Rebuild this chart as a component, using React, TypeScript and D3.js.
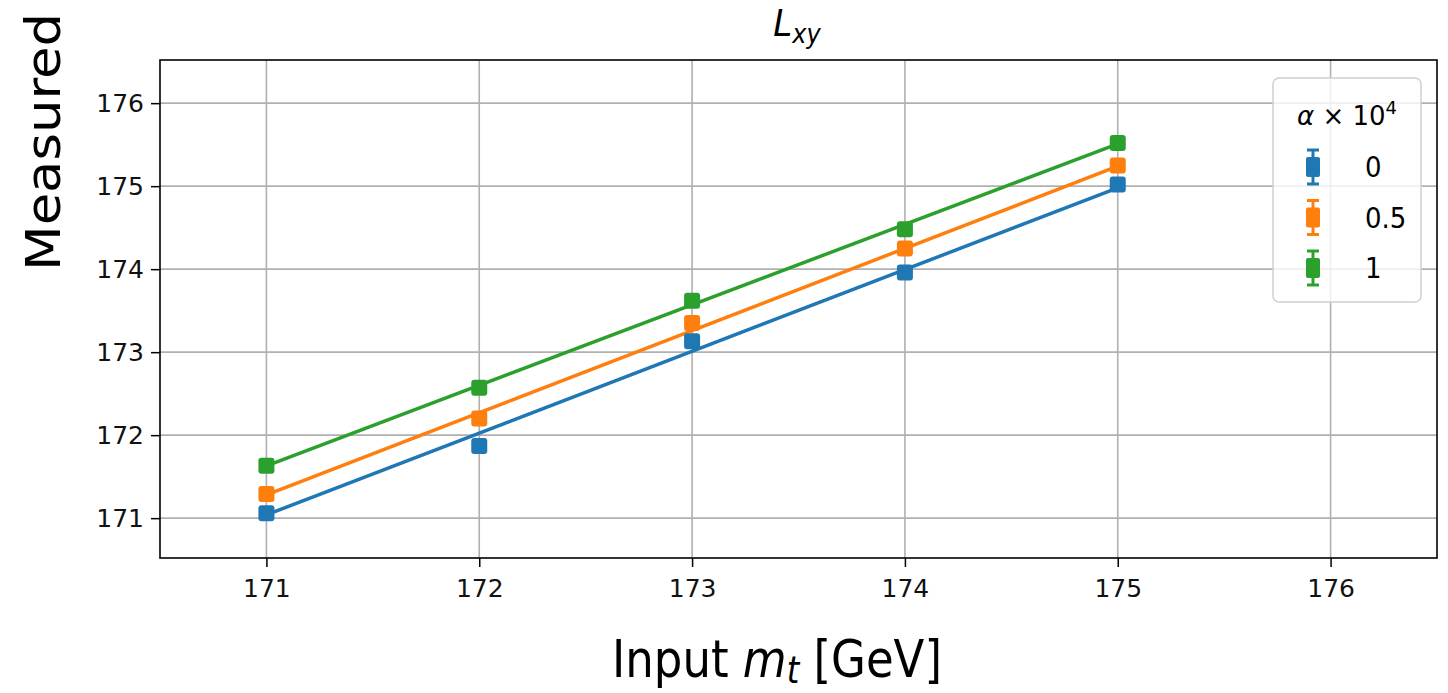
import React, { useRef, useEffect } from 'react';
import * as d3 from 'd3';

// input top mass points
const inputMass = [171, 172, 173, 174, 175];
const alphaLabels = ['0', '0.5', '1'];
const colors = ['#1f77b4', '#ff7f0e', '#2ca02c'];

// measured values per alpha
const measuredA0 = [171.06, 171.87, 173.13, 173.96, 175.02];
const measuredA05 = [171.29, 172.2, 173.35, 174.25, 175.25];
const measuredA1 = [171.63, 172.57, 173.62, 174.48, 175.52];
const errA0 = [0.04, 0.07, 0.05, 0.05, 0.04];
const errA05 = [0.04, 0.05, 0.05, 0.04, 0.05];
const errA1 = [0.05, 0.05, 0.05, 0.04, 0.05];

// linear fit values at 171 and 175
const fitStart = [171.04, 171.28, 171.63];
const fitEnd = [174.98, 175.24, 175.51];

const xTicks = [171, 172, 173, 174, 175, 176];
const yTicks = [171, 172, 173, 174, 175, 176];

const FONT = 'DejaVu Sans, sans-serif';

const Chart: React.FC = () => {
  const ref = useRef<SVGSVGElement>(null);

  useEffect(() => {
    const svg = d3.select(ref.current);
    svg.selectAll('*').remove();
    const width = 1448;
    const height = 693;
    const margin = { top: 60, right: 11, bottom: 135, left: 160 };

    svg.attr('width', width).attr('height', height);

    const x = d3.scaleLinear().domain([170.5, 176.5]).range([margin.left, width - margin.right]);
    const y = d3.scaleLinear().domain([170.52, 176.52]).range([height - margin.bottom, margin.top]);

    const series = [
      { vals: measuredA0, errs: errA0 },
      { vals: measuredA05, errs: errA05 },
      { vals: measuredA1, errs: errA1 },
    ];

    // grid
    const grid = svg.append('g');
    grid.selectAll('line.gx')
      .data(xTicks)
      .join('line')
      .attr('x1', d => x(d)).attr('x2', d => x(d))
      .attr('y1', margin.top).attr('y2', height - margin.bottom)
      .attr('stroke', '#b0b0b0').attr('stroke-width', 1.6);
    grid.selectAll('line.gy')
      .data(yTicks)
      .join('line')
      .attr('x1', margin.left).attr('x2', width - margin.right)
      .attr('y1', d => y(d)).attr('y2', d => y(d))
      .attr('stroke', '#b0b0b0').attr('stroke-width', 1.6);

    // fit lines
    const line = d3.line<[number, number]>().x(d => x(d[0])).y(d => y(d[1]));
    series.forEach((s, i) => {
      svg.append('path')
        .datum([[inputMass[0], fitStart[i]], [inputMass[inputMass.length - 1], fitEnd[i]]] as [number, number][])
        .attr('fill', 'none')
        .attr('stroke', colors[i])
        .attr('stroke-width', 3.5)
        .attr('d', line);
    });

    // points with error bars
    const ms = 16;
    series.forEach((s, i) => {
      const g = svg.append('g');
      s.vals.forEach((v, j) => {
        const cx = x(inputMass[j]);
        g.append('line')
          .attr('x1', cx).attr('x2', cx)
          .attr('y1', y(v - s.errs[j])).attr('y2', y(v + s.errs[j]))
          .attr('stroke', colors[i]).attr('stroke-width', 3);
        [v - s.errs[j], v + s.errs[j]].forEach(e => {
          g.append('line')
            .attr('x1', cx - 6).attr('x2', cx + 6)
            .attr('y1', y(e)).attr('y2', y(e))
            .attr('stroke', colors[i]).attr('stroke-width', 3);
        });
        g.append('rect')
          .attr('x', cx - ms / 2).attr('y', y(v) - ms / 2)
          .attr('width', ms).attr('height', ms)
          .attr('rx', 3)
          .attr('fill', colors[i]);
      });
    });

    // axes
    const xAxis = svg.append('g')
      .attr('transform', `translate(0,${height - margin.bottom})`)
      .call(d3.axisBottom(x).tickValues(xTicks).tickFormat(d3.format('d')).tickSize(9).tickPadding(12));
    const yAxis = svg.append('g')
      .attr('transform', `translate(${margin.left},0)`)
      .call(d3.axisLeft(y).tickValues(yTicks).tickFormat(d3.format('d')).tickSize(9).tickPadding(7));
    [xAxis, yAxis].forEach(a => {
      a.select('.domain').remove();
      a.selectAll('.tick line').attr('stroke', '#000').attr('stroke-width', 1.5);
      a.selectAll('.tick text').attr('font-family', FONT).attr('font-size', 25).attr('fill', '#111');
    });

    // frame
    svg.append('rect')
      .attr('x', margin.left).attr('y', margin.top)
      .attr('width', width - margin.left - margin.right)
      .attr('height', height - margin.top - margin.bottom)
      .attr('fill', 'none').attr('stroke', '#000').attr('stroke-width', 1.6);

    // title L_xy
    const title = svg.append('text')
      .attr('transform', 'translate(797,36) scale(1,1.12)')
      .attr('text-anchor', 'middle')
      .attr('font-family', FONT).attr('font-size', 34).attr('font-style', 'italic');
    title.append('tspan').text('L');
    title.append('tspan').attr('font-size', 24).attr('dy', 6).text('xy');

    // y label
    svg.append('text')
      .attr('transform', 'translate(60,142) rotate(-90) scale(1.1,1)')
      .attr('text-anchor', 'middle')
      .attr('font-family', FONT).attr('font-size', 48)
      .text('Measured');

    // x label
    const xl = svg.append('text')
      .attr('transform', 'translate(777,677) scale(1,1.16)')
      .attr('text-anchor', 'middle')
      .attr('font-family', FONT).attr('font-size', 45);
    xl.append('tspan').text('Input ');
    xl.append('tspan').attr('font-style', 'italic').text('m');
    xl.append('tspan').attr('font-style', 'italic').attr('font-size', 32).attr('dy', 5).text('t');
    xl.append('tspan').attr('dy', -5).text(' [GeV]');

    // legend
    const lg = svg.append('g').attr('transform', 'translate(1273,78)');
    lg.append('rect')
      .attr('width', 148).attr('height', 224).attr('rx', 6)
      .attr('fill', 'white').attr('fill-opacity', 0.8)
      .attr('stroke', '#d0d0d0').attr('stroke-width', 1.5);
    const lt = lg.append('text')
      .attr('x', 74).attr('y', 47)
      .attr('text-anchor', 'middle')
      .attr('font-family', FONT).attr('font-size', 26);
    lt.append('tspan').attr('font-style', 'italic').text('α');
    lt.append('tspan').text(' × 10');
    lt.append('tspan').attr('font-size', 18).attr('dy', -11).text('4');
    alphaLabels.forEach((lab, i) => {
      const cy = 89 + i * 50.5;
      const cx = 40;
      lg.append('line').attr('x1', cx).attr('x2', cx).attr('y1', cy - 17).attr('y2', cy + 17)
        .attr('stroke', colors[i]).attr('stroke-width', 3);
      [cy - 17, cy + 17].forEach(e => {
        lg.append('line').attr('x1', cx - 6).attr('x2', cx + 6).attr('y1', e).attr('y2', e)
          .attr('stroke', colors[i]).attr('stroke-width', 3);
      });
      lg.append('rect').attr('x', cx - 7).attr('y', cy - 10).attr('width', 14).attr('height', 20)
        .attr('rx', 2).attr('fill', colors[i]);
      lg.append('text')
        .attr('transform', `translate(92,${cy + 10}) scale(1,1.1)`)
        .attr('font-family', FONT).attr('font-size', 26)
        .text(lab);
    });
  }, []);

  return <svg ref={ref} style={{ position: 'absolute', left: 0, top: 0, display: 'block' }}></svg>;
};

export default function App() {
  return <Chart />;
}
